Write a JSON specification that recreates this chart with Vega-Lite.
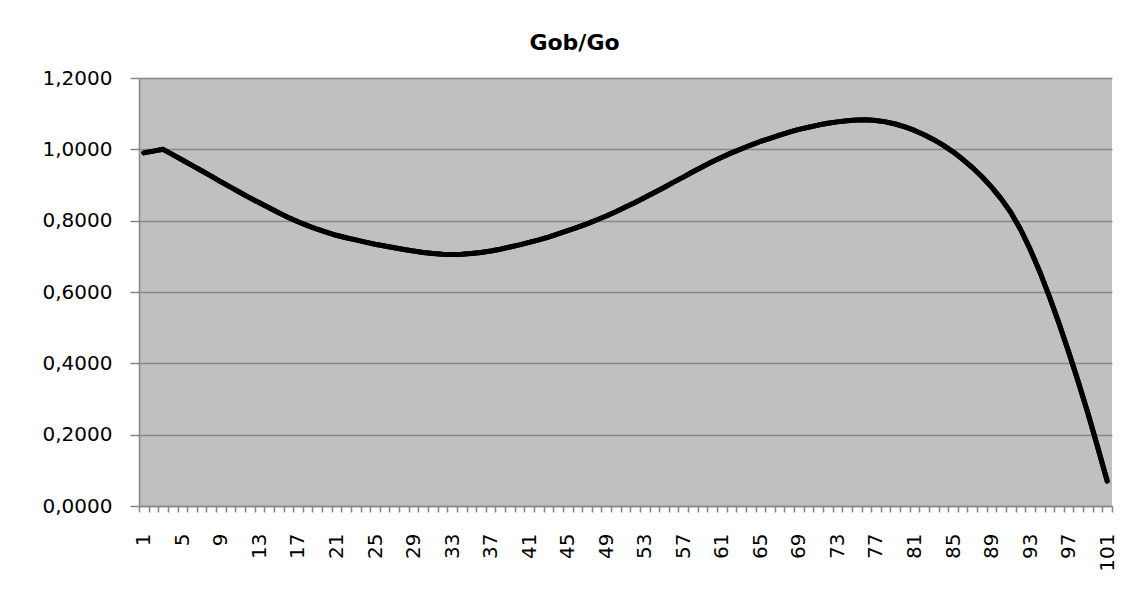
{
  "$schema": "https://vega.github.io/schema/vega-lite/v6.json",
  "autosize": "none",
  "width": 973,
  "height": 428,
  "padding": {"left": 139, "top": 78, "right": 26, "bottom": 97},
  "background": "#ffffff",
  "config": {
    "view": {"fill": "#c0c0c0", "stroke": null},
    "font": "DejaVu Sans"
  },
  "title": {
    "text": "Gob/Go",
    "font": "DejaVu Sans",
    "fontSize": 22,
    "fontWeight": "bold",
    "color": "#000000",
    "anchor": "middle",
    "dx": -51,
    "dy": 18,
    "baseline": "alphabetic",
    "offset": 14
  },
  "data": {
    "values": [
      {"n": 1, "v": 0.990}, {"n": 2, "v": 0.995}, {"n": 3, "v": 1.000}, {"n": 4, "v": 0.985},
      {"n": 5, "v": 0.970}, {"n": 6, "v": 0.955}, {"n": 7, "v": 0.940}, {"n": 8, "v": 0.925},
      {"n": 9, "v": 0.909}, {"n": 10, "v": 0.894}, {"n": 11, "v": 0.879}, {"n": 12, "v": 0.864},
      {"n": 13, "v": 0.850}, {"n": 14, "v": 0.836}, {"n": 15, "v": 0.822}, {"n": 16, "v": 0.809},
      {"n": 17, "v": 0.797}, {"n": 18, "v": 0.786}, {"n": 19, "v": 0.776}, {"n": 20, "v": 0.767},
      {"n": 21, "v": 0.759}, {"n": 22, "v": 0.752}, {"n": 23, "v": 0.746}, {"n": 24, "v": 0.740},
      {"n": 25, "v": 0.734}, {"n": 26, "v": 0.729}, {"n": 27, "v": 0.724}, {"n": 28, "v": 0.719},
      {"n": 29, "v": 0.715}, {"n": 30, "v": 0.711}, {"n": 31, "v": 0.708}, {"n": 32, "v": 0.706},
      {"n": 33, "v": 0.705}, {"n": 34, "v": 0.706}, {"n": 35, "v": 0.708}, {"n": 36, "v": 0.711},
      {"n": 37, "v": 0.715}, {"n": 38, "v": 0.720}, {"n": 39, "v": 0.726}, {"n": 40, "v": 0.732},
      {"n": 41, "v": 0.739}, {"n": 42, "v": 0.746}, {"n": 43, "v": 0.754}, {"n": 44, "v": 0.763},
      {"n": 45, "v": 0.772}, {"n": 46, "v": 0.781}, {"n": 47, "v": 0.791}, {"n": 48, "v": 0.802},
      {"n": 49, "v": 0.813}, {"n": 50, "v": 0.825}, {"n": 51, "v": 0.838}, {"n": 52, "v": 0.851},
      {"n": 53, "v": 0.865}, {"n": 54, "v": 0.879}, {"n": 55, "v": 0.893}, {"n": 56, "v": 0.908},
      {"n": 57, "v": 0.922}, {"n": 58, "v": 0.937}, {"n": 59, "v": 0.951}, {"n": 60, "v": 0.965},
      {"n": 61, "v": 0.978}, {"n": 62, "v": 0.990}, {"n": 63, "v": 1.001}, {"n": 64, "v": 1.012},
      {"n": 65, "v": 1.022}, {"n": 66, "v": 1.031}, {"n": 67, "v": 1.040}, {"n": 68, "v": 1.048},
      {"n": 69, "v": 1.056}, {"n": 70, "v": 1.062}, {"n": 71, "v": 1.068}, {"n": 72, "v": 1.073},
      {"n": 73, "v": 1.077}, {"n": 74, "v": 1.080}, {"n": 75, "v": 1.082}, {"n": 76, "v": 1.083},
      {"n": 77, "v": 1.081}, {"n": 78, "v": 1.077}, {"n": 79, "v": 1.071}, {"n": 80, "v": 1.063},
      {"n": 81, "v": 1.053}, {"n": 82, "v": 1.041}, {"n": 83, "v": 1.027}, {"n": 84, "v": 1.011},
      {"n": 85, "v": 0.993}, {"n": 86, "v": 0.972}, {"n": 87, "v": 0.949}, {"n": 88, "v": 0.923},
      {"n": 89, "v": 0.894}, {"n": 90, "v": 0.861}, {"n": 91, "v": 0.823}, {"n": 92, "v": 0.776},
      {"n": 93, "v": 0.720}, {"n": 94, "v": 0.657}, {"n": 95, "v": 0.587}, {"n": 96, "v": 0.512},
      {"n": 97, "v": 0.432}, {"n": 98, "v": 0.348}, {"n": 99, "v": 0.260}, {"n": 100, "v": 0.166},
      {"n": 101, "v": 0.070}
    ]
  },
  "resolve": {"axis": {"x": "independent"}},
  "layer": [
    {
      "mark": {"type": "line", "color": "#000000", "strokeWidth": 5, "strokeCap": "round", "strokeJoin": "round", "interpolate": "linear"},
      "encoding": {
        "x": {
          "field": "n",
          "type": "quantitative",
          "scale": {"domain": [0.5, 101.5], "nice": false, "zero": false},
          "axis": {
            "orient": "bottom",
            "values": [0.5, 1.5, 2.5, 3.5, 4.5, 5.5, 6.5, 7.5, 8.5, 9.5, 10.5, 11.5, 12.5, 13.5, 14.5, 15.5, 16.5, 17.5, 18.5, 19.5, 20.5, 21.5, 22.5, 23.5, 24.5, 25.5, 26.5, 27.5, 28.5, 29.5, 30.5, 31.5, 32.5, 33.5, 34.5, 35.5, 36.5, 37.5, 38.5, 39.5, 40.5, 41.5, 42.5, 43.5, 44.5, 45.5, 46.5, 47.5, 48.5, 49.5, 50.5, 51.5, 52.5, 53.5, 54.5, 55.5, 56.5, 57.5, 58.5, 59.5, 60.5, 61.5, 62.5, 63.5, 64.5, 65.5, 66.5, 67.5, 68.5, 69.5, 70.5, 71.5, 72.5, 73.5, 74.5, 75.5, 76.5, 77.5, 78.5, 79.5, 80.5, 81.5, 82.5, 83.5, 84.5, 85.5, 86.5, 87.5, 88.5, 89.5, 90.5, 91.5, 92.5, 93.5, 94.5, 95.5, 96.5, 97.5, 98.5, 99.5, 100.5, 101.5],
            "title": null,
            "grid": false,
            "labels": false,
            "domain": true,
            "domainColor": "#878787",
            "domainWidth": 1.5,
            "ticks": true,
            "tickSize": 6,
            "tickColor": "#878787",
            "tickWidth": 1.5
          }
        },
        "y": {
          "field": "v",
          "type": "quantitative",
          "scale": {"domain": [0, 1.2], "nice": false, "zero": true},
          "axis": {
            "values": [0, 0.2, 0.4, 0.6, 0.8, 1.0, 1.2],
            "title": null,
            "labelExpr": "replace(format(datum.value, '.4f'), '.', ',')",
            "grid": true,
            "gridColor": "#878787",
            "gridWidth": 1.5,
            "domain": true,
            "domainColor": "#878787",
            "domainWidth": 1.5,
            "ticks": true,
            "tickSize": 9,
            "tickColor": "#878787",
            "tickWidth": 1.5,
            "labelPadding": 18,
            "labelFont": "DejaVu Sans",
            "labelFontSize": 20,
            "labelColor": "#000000",
            "labelFlush": false,
            "labelOverlap": false
          }
        }
      }
    },
    {
      "mark": {"type": "line", "color": "#000000", "strokeWidth": 5, "strokeCap": "round", "strokeJoin": "round", "interpolate": "linear"},
      "encoding": {
        "x": {
          "field": "n",
          "type": "quantitative",
          "axis": {
            "orient": "bottom",
            "values": [1, 5, 9, 13, 17, 21, 25, 29, 33, 37, 41, 45, 49, 53, 57, 61, 65, 69, 73, 77, 81, 85, 89, 93, 97, 101],
            "title": null,
            "grid": false,
            "domain": false,
            "ticks": true,
            "tickSize": 0,
            "labelAngle": 270,
            "labelAlign": "right",
            "labelBaseline": "middle",
            "labelPadding": 27,
            "labelFont": "DejaVu Sans",
            "labelFontSize": 20,
            "labelColor": "#000000",
            "labelFlush": false,
            "labelOverlap": false,
            "labelBound": false
          }
        },
        "y": {"field": "v", "type": "quantitative"}
      }
    }
  ]
}
